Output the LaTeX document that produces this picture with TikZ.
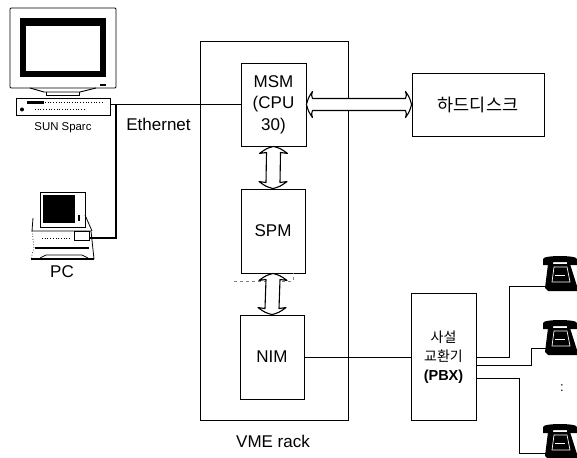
\documentclass[tikz,border=0pt]{standalone}
\usepackage{fontspec}
\setmainfont{Liberation Sans}
\newfontfamily\kr{Noto Sans CJK KR}
\usetikzlibrary{calc}
\newcommand\hbus[2]{%
  \draw[busline] (#1) .. controls ([shift={(2,-7)}]#1) .. ([shift={(6,-13)}]#1)
    .. controls ([shift={(5,-9)}]#1) .. ([shift={(6,-6)}]#1)
    -- ([shift={(-6,-6)}]#2) .. controls ([shift={(-5,-9)}]#2) .. ([shift={(-6,-13)}]#2)
    .. controls ([shift={(-2,-7)}]#2) .. (#2)
    .. controls ([shift={(-2,7)}]#2) .. ([shift={(-6,13)}]#2)
    .. controls ([shift={(-5,9)}]#2) .. ([shift={(-6,6)}]#2)
    -- ([shift={(6,6)}]#1) .. controls ([shift={(5,9)}]#1) .. ([shift={(6,13)}]#1)
    .. controls ([shift={(2,7)}]#1) .. (#1) -- cycle;}
\newcommand\vbus[2]{%
  \draw[busline] (#1) .. controls ([shift={(-7,2)}]#1) .. ([shift={(-14,7)}]#1)
    .. controls ([shift={(-10,7)}]#1) .. ([shift={(-7,6)}]#1)
    -- ([shift={(-7,-6)}]#2) .. controls ([shift={(-10,-7)}]#2) .. ([shift={(-14,-7)}]#2)
    .. controls ([shift={(-7,-2)}]#2) .. (#2)
    .. controls ([shift={(7,-2)}]#2) .. ([shift={(14,-7)}]#2)
    .. controls ([shift={(10,-7)}]#2) .. ([shift={(7,-6)}]#2)
    -- ([shift={(7,6)}]#1) .. controls ([shift={(10,7)}]#1) .. ([shift={(14,7)}]#1)
    .. controls ([shift={(7,2)}]#1) .. (#1) -- cycle;}
\tikzset{
  x=1pt,y=-1pt,
  box/.style={draw,line width=0.9pt,rectangle,inner sep=0pt,align=center,font=\fontsize{17}{21.5}\selectfont},
  wire/.style={line width=0.9pt},
  netw/.style={line width=2.2pt},
  busline/.style={draw,fill=white,line width=1.1pt,line join=round},
  lbl/.style={inner sep=0pt,align=center},
  phone/.pic={
    \fill (0,1) .. controls (0,-3) and (34,-3) .. (34,1) -- (34,7) -- (24,7) -- (24,4) -- (10,4) -- (10,7) -- (0,7) -- cycle;
    \fill (5,6) -- (27,6) -- (34,28) -- (34,33) -- (5,33) -- (2,30) -- cycle;
    \draw[white,line width=0.7pt] (11,9) -- (24,9) -- (27,24) -- (9,24) -- cycle;
    \draw[white,line width=1pt] (12,17) -- (22,17);
  }
}
\begin{document}
\begin{tikzpicture}
\useasboundingbox (0,0) rectangle (577,457);
\clip (0,0) rectangle (577,457);
% SUN workstation
\draw[line width=0.9pt,rounded corners=1pt] (10,8) rectangle (116,88);
\fill (20,18) rectangle (106,77);
\fill[white] (26,26) rectangle (100,71);
\fill (100,84) rectangle (106,86);
\draw[line width=0.9pt] (30,88) -- (44,92) -- (80,92) -- (96,88);
\draw[line width=0.9pt] (46,92) -- (46,96) (79,92) -- (79,96) (46,95) -- (79,95);
\node[draw,line width=0.9pt,minimum width=94pt,minimum height=17pt,inner sep=0pt] (sun) at (63,106.5) {};
\fill (27,101) rectangle (44,104);
\draw[dotted,line width=0.7pt] (45,102) -- (104,102) (35,109) -- (84,109);
\fill (22,109.5) circle (2pt);
\node[lbl,font=\fontsize{11.4}{13}\selectfont] (sunl) at (63,128) {SUN Sparc};
% PC
\draw[line width=0.9pt] (40,192) rectangle (85,227);
\fill (43,195) rectangle (75,223);
\fill (78,215) rectangle (80,221);
\draw[line width=0.8pt] (33,218) -- (32,231) -- (91,231) -- (94,259);
\draw[line width=0.8pt] (85,215) -- (92,231);
\draw[dotted,line width=0.7pt] (32,231) -- (34,247) -- (31,259);
\draw[dotted,line width=0.7pt] (42,238) -- (70,238);
\node[draw,line width=0.9pt,minimum width=15pt,minimum height=9pt,inner sep=0pt] (port) at (81.5,236) {};
\draw[line width=1.6pt] (35,248) -- (89,248);
\draw[line width=1.1pt] (31,259) -- (94,259);
\draw[line width=0.8pt] (40,258) -- (46,255) -- (82,255) -- (88,258);
\node[lbl,font=\fontsize{17}{20}\selectfont] (pcl) at (62,272) {PC};
% Rack and modules
\node[draw,line width=0.9pt,minimum width=148pt,minimum height=379pt,inner sep=0pt] (rack) at (274,230.5) {};
\node[box,minimum width=65pt,minimum height=83pt] (msm) at (273.5,104.5) {MSM\\(CPU\\30)};
\node[box,minimum width=64pt,minimum height=84pt] (spm) at (273,231) {SPM};
\node[box,minimum width=64pt,minimum height=84pt] (nim) at (272,357) {NIM};
\node[box,minimum width=132pt,minimum height=63pt] (hdd) at (478,104.5) {\kr\fontsize{17.5}{20}\selectfont 하드디스크};
\node[box,minimum width=65pt,minimum height=127pt,font=\fontsize{14.5}{19}\selectfont] (pbx) at (443.5,357) {{\kr\fontsize{14}{19}\selectfont 사설}\\{\kr\fontsize{14}{19}\selectfont 교환기}\\\textbf{(PBX)}};
\node[lbl,font=\fontsize{17}{20}\selectfont] (eth) at (158.5,124.5) {Ethernet};
\node[lbl,font=\fontsize{17}{20}\selectfont] (vme) at (273,441) {VME rack};
\node[lbl,font=\fontsize{13}{14}\selectfont] (dots) at (562,388) {:};
% Faint trace under SPM
\draw[gray,dashed,line width=0.6pt] (234,281) -- (293,281) -- (293,273);
% Network
\coordinate (tee) at (116,104.5);
\draw[line width=1.5pt] (sun.east |- msm.west) -- (msm.west);
\draw[netw] (tee) -- ([yshift=-2pt]port.east -| tee) -- ([yshift=-2pt]port.east);
% Buses
\hbus{msm.east}{hdd.west}
\vbus{msm.south}{spm.north}
\vbus{spm.south}{nim.north}
% Phones
\pic at (543,258) {phone};
\pic at (543,322) {phone};
\pic at (543,426) {phone};
\coordinate (p1) at (546,286);
\coordinate (p2) at (546,348);
\coordinate (p3) at (546,453);
\draw[wire] (nim.east) -- (pbx.west);
\draw[wire] (pbx.east) -- (509,357) -- (509,286) -- (p1);
\draw[wire] ([yshift=-8pt]pbx.east) -- (531,365) -- (531,348) -- (p2);
\draw[wire] ([yshift=-21pt]pbx.east) -- (519,378) -- (519,453) -- (p3);
\end{tikzpicture}
\end{document}
